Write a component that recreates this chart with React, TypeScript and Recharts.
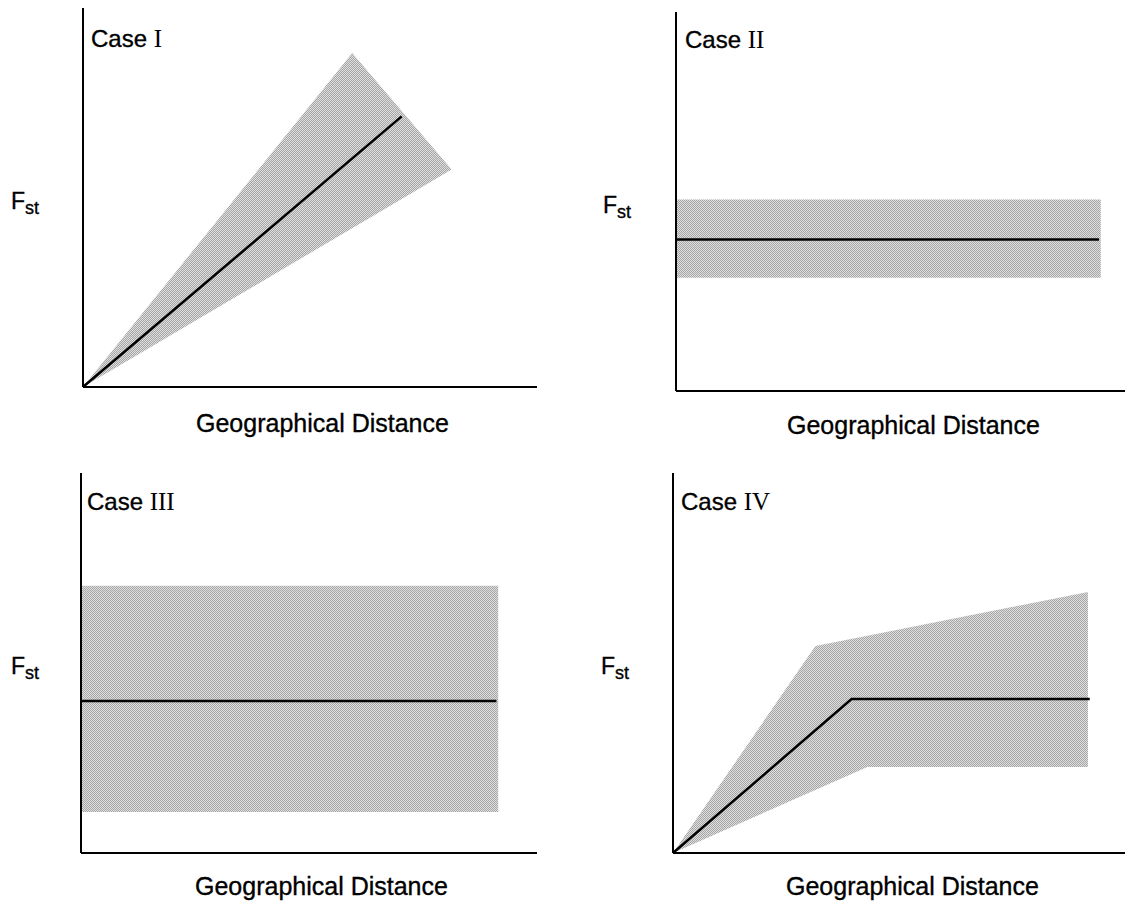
import React from 'react';
import { ComposedChart, Area, Line, XAxis, YAxis } from 'recharts';

// distances and Fst are in percent of each axis length (0..100)
const case1BandDist = [0, 59.3, 81.2];
const case1BandLow = [0, 41.9, 57.4];
const case1BandHigh = [0, 88.1, 57.4];
const case1FitDist = [0, 70.2];
const case1FitFst = [0, 71.4];

const case2BandDist = [0, 94.6];
const case2BandLow = [29.9, 29.9];
const case2BandHigh = [50.5, 50.5];
const case2FitDist = [0, 94.2];
const case2FitFst = [40.0, 40.0];

const case3BandDist = [0, 91.5];
const case3BandLow = [10.8, 10.8];
const case3BandHigh = [70.3, 70.3];
const case3FitDist = [0, 91.1];
const case3FitFst = [40.0, 40.0];

const case4BandDist = [0, 31.5, 43.0, 91.8];
const case4BandLow = [0, 16.6, 22.6, 22.6];
const case4BandHigh = [0, 54.5, 57.2, 68.7];
const case4FitDist = [0, 39.5, 92.2];
const case4FitFst = [0, 40.5, 40.5];

const caseNames = ['I', 'II', 'III', 'IV'];
const xTitle = 'Geographical Distance';

const band = (d: number[], lo: number[], hi: number[]) =>
  d.map((v, i) => ({ d: v, range: [lo[i], hi[i]] }));
const fit = (d: number[], f: number[]) => d.map((v, i) => ({ d: v, fst: f[i] }));

// pixel layout of each panel (axes origin, ends, and label baselines)
const panels = [
  { ox: 83, oy: 387, xEnd: 537, yTop: 8, caseX: 91, caseY: 47, fX: 11, fY: 209, gX: 196, gY: 432,
    band: band(case1BandDist, case1BandLow, case1BandHigh), fit: fit(case1FitDist, case1FitFst) },
  { ox: 676, oy: 391, xEnd: 1125, yTop: 12, caseX: 685, caseY: 48, fX: 603, fY: 213, gX: 787, gY: 434,
    band: band(case2BandDist, case2BandLow, case2BandHigh), fit: fit(case2FitDist, case2FitFst) },
  { ox: 81, oy: 853, xEnd: 537, yTop: 473, caseX: 87, caseY: 510, fX: 11, fY: 674, gX: 195, gY: 895,
    band: band(case3BandDist, case3BandLow, case3BandHigh), fit: fit(case3FitDist, case3FitFst) },
  { ox: 673, oy: 853, xEnd: 1125, yTop: 473, caseX: 681, caseY: 510, fX: 601, fY: 674, gX: 786, gY: 895,
    band: band(case4BandDist, case4BandLow, case4BandHigh), fit: fit(case4FitDist, case4FitFst) },
];

const sans = '"Liberation Sans", Arial, Helvetica, sans-serif';
const serif = '"Liberation Serif", "Times New Roman", serif';

const Panel = ({ p, idx }: { p: any; idx: number }) => {
  const pad = 6;
  const w = p.xEnd - p.ox + pad * 2;
  const h = p.oy - p.yTop + pad * 2;
  const pid = `dots${idx}`;
  return (
    <div style={{ position: 'absolute', left: p.ox - pad, top: p.yTop - pad }}>
      <ComposedChart width={w} height={h} margin={{ top: pad, right: pad, bottom: pad - 1, left: pad - 1 }}>
        <defs>
          <pattern id={pid} width="2" height="2" patternUnits="userSpaceOnUse">
            <rect width="2" height="2" fill="#dedede" />
            <rect x="0" y="0" width="1" height="1" fill="#a6a6a6" />
            <rect x="1" y="1" width="1" height="1" fill="#a6a6a6" />
          </pattern>
        </defs>
        <XAxis type="number" dataKey="d" domain={[0, 100]} allowDataOverflow height={1}
          tick={false} tickLine={false} axisLine={{ stroke: '#000', strokeWidth: 2 }} />
        <YAxis type="number" domain={[0, 100]} allowDataOverflow width={1}
          tick={false} tickLine={false} axisLine={{ stroke: '#000', strokeWidth: 2 }} />
        <Area data={p.band} dataKey="range" type="linear" stroke="none" fill={`url(#${pid})`}
          fillOpacity={1} isAnimationActive={false} dot={false} activeDot={false} />
        <Line data={p.fit} dataKey="fst" type="linear" stroke="#000" strokeWidth={2.5}
          dot={false} activeDot={false} isAnimationActive={false} />
      </ComposedChart>
    </div>
  );
};

const Labels = () => (
  <svg width={1125} height={903} style={{ position: 'absolute', left: 0, top: 0, pointerEvents: 'none' }}>
    {panels.map((p, i) => (
      <g key={i} fill="#000">
        <text x={p.caseX} y={p.caseY} fontFamily={sans} fontSize={24} stroke="#000" strokeWidth={0.35}>
          Case <tspan fontFamily={serif} fontSize={25} stroke="none">{caseNames[i]}</tspan>
        </text>
        <text x={p.fX} y={p.fY} fontFamily={sans} fontSize={23} stroke="#000" strokeWidth={0.35}>
          F<tspan fontSize={18} dy={5}>st</tspan>
        </text>
        <text x={p.gX} y={p.gY} fontFamily={sans} fontSize={25} stroke="#000" strokeWidth={0.35}>
          {xTitle}
        </text>
      </g>
    ))}
  </svg>
);

export default function App() {
  return (
    <div style={{ position: 'absolute', left: 0, top: 0, width: 1125, height: 903, background: '#fff', overflow: 'hidden' }}>
      {panels.map((p, i) => (
        <Panel key={i} p={p} idx={i} />
      ))}
      <Labels />
    </div>
  );
}
